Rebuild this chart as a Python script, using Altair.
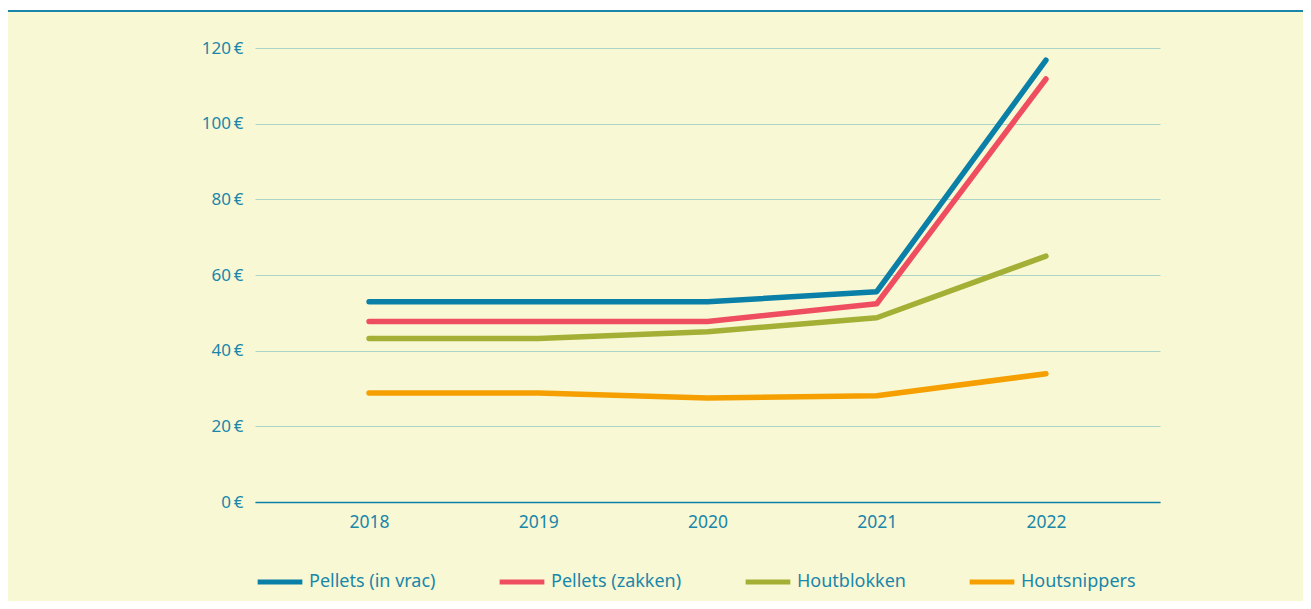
import altair as alt
import pandas as pd

years = ["2018", "2019", "2020", "2021", "2022"]
series_names = ["Pellets (in vrac)", "Pellets (zakken)", "Houtblokken", "Houtsnippers"]
pellets_vrac = [52.9, 52.9, 52.9, 55.6, 116.8]
pellets_zakken = [47.7, 47.7, 47.7, 52.4, 111.8]
houtblokken = [43.2, 43.2, 45.0, 48.7, 65.0]
houtsnippers = [28.8, 28.8, 27.5, 28.1, 33.9]
colors = ["#0A7FA7", "#EF4D60", "#A3B035", "#F59F00"]

rows = []
for name, vals in zip(series_names, [pellets_vrac, pellets_zakken, houtblokken, houtsnippers]):
    for y, v in zip(years, vals):
        rows.append({"jaar": y, "prijs": v, "brandstof": name})
df = pd.DataFrame(rows)

teal = "#1A86AA"
W, H = 905, 454

lines = alt.Chart(df).mark_line(strokeWidth=5.5, strokeCap="round", strokeJoin="round").encode(
    x=alt.X("jaar:O", scale=alt.Scale(type="point", padding=0.674),
            axis=alt.Axis(title=None, labelAngle=0, ticks=False, domain=True, domainColor="#0B7FA6",
                          domainWidth=1.5, labelPadding=11, labelFontSize=17.5, labelColor=teal,
                          labelFont="Noto Sans", grid=False)),
    y=alt.Y("prijs:Q", scale=alt.Scale(domain=[0, 120], nice=False),
            axis=alt.Axis(title=None, values=[0, 20, 40, 60, 80, 100, 120], ticks=False, domain=False,
                          gridColor="#A9D4C6", gridWidth=1.2, labelPadding=12, labelFontSize=17,
                          labelColor=teal, labelFont="Noto Sans",
                          labelExpr="datum.value + '\u2009€'")),
    color=alt.Color("brandstof:N", sort=series_names,
                    scale=alt.Scale(domain=series_names, range=colors),
                    legend=alt.Legend(title=None, orient="none", legendX=0, legendY=509,
                                      direction="horizontal", symbolType="stroke",
                                      symbolSize=2000, symbolStrokeWidth=5,
                                      labelFontSize=18, labelColor=teal, labelFont="Noto Sans",
                                      columnPadding=53, labelOffset=4)),
)

top_rule = alt.Chart(pd.DataFrame({"a": [0]})).mark_rule(color="#1A86AA", strokeWidth=2).encode(
    x=alt.value(-260), x2=alt.value(W + 160), y=alt.value(-37)
)
top_white = alt.Chart(pd.DataFrame({"a": [0]})).mark_rect(color="white").encode(
    x=alt.value(-260), x2=alt.value(W + 160), y=alt.value(-42), y2=alt.value(-38)
)

chart = alt.layer(top_white, top_rule, lines).properties(
    width=W, height=H,
    autosize=alt.AutoSizeParams(type="none"),
    padding={"left": 247, "top": 40, "right": 143, "bottom": 99},
    background="#F8F9D4",
).configure_view(stroke=None)

chart.save("out.html", embed_options={"renderer": "svg", "actions": False})
